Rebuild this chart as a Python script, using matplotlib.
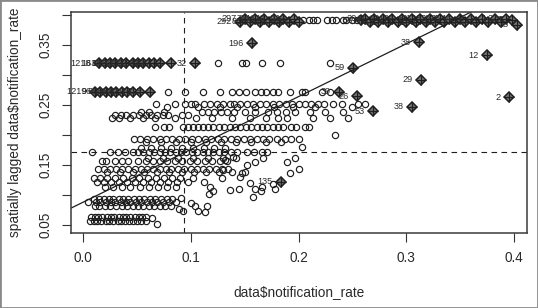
import matplotlib
matplotlib.use("Agg")
import matplotlib.pyplot as plt
from matplotlib.patches import Rectangle

plt.rcParams['font.family'] = ['Liberation Sans', 'DejaVu Sans']

# ---------------- data ----------------
# ordinary points: each band = one spatially lagged value with its notification rates
lag_a1 = 0.063
rates_a1 = [0.007, 0.011, 0.014, 0.018, 0.022, 0.026, 0.029, 0.033, 0.037, 0.040, 0.044, 0.048, 0.052, 0.055, 0.058]
lag_a2 = 0.057
rates_a2 = [0.006, 0.010, 0.013, 0.017, 0.021, 0.024, 0.028, 0.032, 0.035, 0.039, 0.043, 0.046, 0.050, 0.054, 0.058]

lag_c1 = 0.094
rates_c1 = [0.010, 0.015, 0.019, 0.024, 0.028, 0.033, 0.037, 0.042, 0.047, 0.052, 0.057, 0.062, 0.067, 0.072, 0.078, 0.083]
lag_c2 = 0.088
rates_c2 = [0.005, 0.012, 0.016, 0.021, 0.026, 0.030, 0.035, 0.040, 0.044, 0.049, 0.054, 0.059, 0.064, 0.069, 0.074, 0.080, 0.086]
lag_c3 = 0.082
rates_c3 = [0.011, 0.015, 0.020, 0.025, 0.031, 0.036, 0.041, 0.046, 0.051, 0.056, 0.061, 0.066, 0.071, 0.076, 0.082]

lag_d1 = 0.129
rates_d1 = [0.010, 0.016, 0.022, 0.030, 0.037, 0.045, 0.052, 0.060, 0.068, 0.075, 0.083, 0.090, 0.102]
lag_d2 = 0.121
rates_d2 = [0.013, 0.019, 0.026, 0.033, 0.041, 0.048, 0.056, 0.063, 0.071, 0.079, 0.087, 0.097, 0.112]
lag_d3 = 0.114
rates_d3 = [0.020, 0.028, 0.036, 0.044, 0.053, 0.061, 0.070, 0.078, 0.086, 0.118]

lag_e1 = 0.143
rates_e1 = [0.014, 0.019, 0.025, 0.031, 0.036, 0.042, 0.048, 0.054, 0.059, 0.065, 0.071, 0.077, 0.082, 0.088,
            0.094, 0.100, 0.106, 0.111, 0.117, 0.123, 0.129, 0.135]
lag_e2 = 0.138
rates_e2 = [0.022, 0.034, 0.046, 0.057, 0.069, 0.080, 0.092, 0.103, 0.114, 0.126, 0.138, 0.150]

lag_f1 = 0.157
rates_f1 = [0.018, 0.021, 0.030, 0.036, 0.042, 0.051, 0.058, 0.065, 0.071, 0.078, 0.085, 0.092, 0.099, 0.106,
            0.113, 0.120, 0.127, 0.134]
lag_f2 = 0.162
rates_f2 = [0.060, 0.074, 0.088, 0.102, 0.116, 0.130, 0.142]

lag_g1 = 0.172
rates_g1 = [0.008, 0.025, 0.032, 0.039, 0.046, 0.051, 0.056, 0.061, 0.066, 0.071, 0.076, 0.081, 0.086, 0.091,
            0.096, 0.101, 0.106, 0.111, 0.116, 0.121, 0.126, 0.131, 0.137, 0.143, 0.152, 0.159, 0.166, 0.171]
lag_g2 = 0.178
rates_g2 = [0.054, 0.063, 0.072, 0.082, 0.092, 0.102, 0.112, 0.122, 0.132]

lag_h1 = 0.193
rates_h1 = [0.047, 0.053, 0.059, 0.065, 0.071, 0.077, 0.083, 0.089, 0.095, 0.101, 0.107, 0.113, 0.119, 0.125,
            0.131, 0.137, 0.143, 0.149, 0.155, 0.161, 0.167, 0.173, 0.180, 0.187, 0.193, 0.200]
lag_h2 = 0.189
rates_h2 = [0.058, 0.072, 0.086, 0.100, 0.114, 0.128, 0.142, 0.156, 0.170, 0.184]

lag_i1 = 0.213
rates_i1 = [0.067, 0.075, 0.080, 0.093, 0.097, 0.102, 0.107, 0.111, 0.116, 0.121, 0.126, 0.131, 0.136, 0.141,
            0.146, 0.151, 0.156, 0.161, 0.166, 0.171, 0.176, 0.181, 0.186, 0.193, 0.198, 0.206, 0.210]

lag_j1 = 0.233
rates_j1 = [0.030, 0.035, 0.040, 0.046, 0.052, 0.058, 0.063, 0.069, 0.074, 0.079, 0.092, 0.097]
lag_j2 = 0.238
rates_j2 = [0.054, 0.061, 0.075, 0.110, 0.116, 0.122, 0.128, 0.134, 0.140, 0.150, 0.160, 0.172, 0.180, 0.188,
            0.197, 0.211, 0.225, 0.241]
lag_j3 = 0.228
rates_j3 = [0.027, 0.033, 0.044, 0.056, 0.067, 0.085, 0.105, 0.120, 0.138, 0.155, 0.170, 0.181, 0.189, 0.213,
            0.229, 0.246]

lag_k1 = 0.251
rates_k1 = [0.068, 0.085, 0.095, 0.100, 0.104, 0.112, 0.118, 0.124, 0.130, 0.136, 0.140, 0.146, 0.152, 0.158,
            0.164, 0.170, 0.176, 0.182, 0.188, 0.194, 0.200, 0.206, 0.212, 0.218, 0.224, 0.232, 0.240, 0.255, 0.262]
lag_k2 = 0.246
rates_k2 = [0.078, 0.107, 0.127, 0.143, 0.160, 0.177, 0.195, 0.215, 0.250]

lag_l1 = 0.272
rates_l1 = [0.079, 0.095, 0.111, 0.127, 0.138, 0.145, 0.151, 0.160, 0.165, 0.170, 0.176, 0.181, 0.192, 0.203,
            0.206, 0.222, 0.229]

lag_m1 = 0.320
rates_m1 = [0.125, 0.148, 0.151, 0.166, 0.183, 0.229]

lag_n1 = 0.391
rates_n1 = [0.204, 0.210, 0.213, 0.217, 0.226, 0.231, 0.235, 0.241, 0.244, 0.250, 0.254]

# loose ordinary points
loose_rates = [0.064, 0.069, 0.091, 0.089, 0.093, 0.100, 0.104, 0.107, 0.113, 0.115,
               0.136, 0.155, 0.160, 0.166, 0.146, 0.148, 0.152, 0.160, 0.167, 0.189, 0.192, 0.197,
               0.200, 0.130, 0.129, 0.132, 0.139, 0.234, 0.203, 0.145, 0.158, 0.165, 0.176, 0.178,
               0.121, 0.117]
loose_lags = [0.061, 0.052, 0.095, 0.077, 0.073, 0.087, 0.081, 0.073, 0.072, 0.081,
              0.108, 0.120, 0.110, 0.113, 0.130, 0.137, 0.150, 0.155, 0.162, 0.155, 0.137, 0.162,
              0.143, 0.142, 0.128, 0.158, 0.163, 0.200, 0.180, 0.110, 0.096, 0.106, 0.118, 0.110,
              0.106, 0.102]

# influential observations (diamond markers with labels)
infl_rates_r32 = [0.015, 0.020, 0.025, 0.030, 0.035, 0.040, 0.046, 0.051, 0.056, 0.061, 0.066, 0.071, 0.082, 0.104]
infl_lag_r32 = 0.320
infl_labels_r32 = ["1218", "163", "64", "159", "186", "47", "202", "215", "166", "84", "124", "227", "33", "32"]

infl_rates_r27 = [0.011, 0.016, 0.021, 0.026, 0.031, 0.036, 0.041, 0.046, 0.053, 0.062]
infl_lag_r27 = 0.272
infl_labels_r27 = ["1219", "96", "66", "58", "26", "168", "82", "219", "76", "213"]

infl_rates_top = [0.146, 0.150, 0.155, 0.160, 0.164, 0.168, 0.173, 0.177, 0.182, 0.186, 0.191, 0.196, 0.200,
                  0.258, 0.262, 0.266, 0.270, 0.274, 0.278, 0.283, 0.287, 0.292, 0.296, 0.300, 0.305, 0.309,
                  0.313, 0.318, 0.322, 0.327, 0.331, 0.335, 0.340, 0.345, 0.350, 0.355, 0.360, 0.365, 0.370,
                  0.376, 0.382, 0.388, 0.393, 0.398, 0.403]
infl_lags_top = [0.389, 0.394, 0.389, 0.394, 0.389, 0.394, 0.389, 0.394, 0.389, 0.394, 0.389, 0.394, 0.389,
                 0.391, 0.394, 0.389, 0.394, 0.389, 0.394, 0.389, 0.394, 0.389, 0.394, 0.389, 0.394, 0.389,
                 0.394, 0.389, 0.394, 0.389, 0.394, 0.389, 0.394, 0.389, 0.394, 0.389, 0.394, 0.389, 0.394,
                 0.389, 0.394, 0.389, 0.394, 0.392, 0.384]
infl_labels_top = ["292", "297", "88", "71", "104", "246", "61", "17", "230", "9", "45", "113", "251",
                   "55", "20", "35", "48", "11", "7", "63", "24", "41", "99", "13", "5", "68",
                   "21", "42", "18", "6", "30", "16", "25", "3", "14", "23", "8", "10", "1",
                   "15", "4", "19", "22", "27", "28"]

infl_rates_single = [0.157, 0.312, 0.375, 0.251, 0.314, 0.238, 0.254, 0.269, 0.305, 0.395, 0.184]
infl_lags_single = [0.353, 0.355, 0.333, 0.312, 0.292, 0.272, 0.265, 0.240, 0.247, 0.263, 0.122]
infl_labels_single = ["196", "38", "12", "59", "29", "39", "26", "53", "38", "2", "135"]

# reference lines
mean_rate = 0.0937
mean_lag = 0.172
reg_intercept = 0.088
reg_slope = 0.880

x_ticks = [0.0, 0.1, 0.2, 0.3, 0.4]
x_tick_labels = ["0.0", "0.1", "0.2", "0.3", "0.4"]
y_ticks = [0.05, 0.10, 0.15, 0.20, 0.25, 0.30, 0.35, 0.40]
y_tick_labels = ["0.05", "", "0.15", "", "0.25", "", "0.35", ""]

# ---------------- assemble ----------------
bands = [(lag_a1, rates_a1), (lag_a2, rates_a2), (lag_c1, rates_c1), (lag_c2, rates_c2), (lag_c3, rates_c3),
         (lag_d1, rates_d1), (lag_d2, rates_d2), (lag_d3, rates_d3), (lag_e1, rates_e1), (lag_e2, rates_e2),
         (lag_f1, rates_f1), (lag_f2, rates_f2), (lag_g1, rates_g1), (lag_g2, rates_g2), (lag_h1, rates_h1),
         (lag_h2, rates_h2), (lag_i1, rates_i1), (lag_j1, rates_j1), (lag_j2, rates_j2), (lag_j3, rates_j3),
         (lag_k1, rates_k1), (lag_k2, rates_k2), (lag_l1, rates_l1), (lag_m1, rates_m1), (lag_n1, rates_n1)]
pts_x, pts_y = [], []
for lag, rates in bands:
    pts_x += rates
    pts_y += [lag] * len(rates)
pts_x += loose_rates
pts_y += loose_lags

inf_x = infl_rates_r32 + infl_rates_r27 + infl_rates_top + infl_rates_single
inf_y = ([infl_lag_r32] * len(infl_rates_r32) + [infl_lag_r27] * len(infl_rates_r27)
         + infl_lags_top + infl_lags_single)
inf_lab = infl_labels_r32 + infl_labels_r27 + infl_labels_top + infl_labels_single

# ---------------- draw ----------------
W, H = 538, 308
fig = plt.figure(figsize=(W / 100, H / 100), dpi=100)
fig.patch.set_facecolor('white')
ax = fig.add_axes([71 / W, 1 - 233 / H, (527 - 71) / W, (233 - 12) / H])

ink = '#1e1e1e'
ax.plot(pts_x, pts_y, linestyle='none', marker='o', ms=4.5, mfc='none', mec=ink, mew=0.85)
ax.plot(inf_x, inf_y, linestyle='none', marker='D', ms=5.0, mfc='#7a7a7a', mec=ink, mew=1.1)
ax.plot(inf_x, inf_y, linestyle='none', marker='+', ms=7.0, mec=ink, mew=0.9)
for xv, yv, lab in zip(inf_x, inf_y, inf_lab):
    ax.annotate(lab, (xv, yv), xytext=(-6.0, 0), textcoords='offset points',
                ha='right', va='center', fontsize=6.6, color='#2a2a2a')

ax.axline((0, reg_intercept), slope=reg_slope, color=ink, lw=0.9)
ax.axvline(mean_rate, color=ink, lw=0.8, linestyle=(0, (5, 4)))
ax.axhline(mean_lag, color=ink, lw=0.8, linestyle=(0, (5, 4)))

ax.set_xlim(-0.0112, 0.4121)
ax.set_ylim(0.0367, 0.405)
ax.set_xticks(x_ticks)
ax.set_xticklabels(x_tick_labels)
ax.set_yticks(y_ticks)
ax.set_yticklabels(y_tick_labels, rotation=90, va='center')
ax.tick_params(direction='out', length=6.5, width=0.8, color='#333333', pad=6.5,
               labelsize=9.8, labelcolor='#2a2a2a')
for sp in ax.spines.values():
    sp.set_color('#3a3a3a')
    sp.set_linewidth(1.1)

fig.text(299 / W, 1 - 292 / H, r'data\$notification_rate', ha='center', va='center',
         fontsize=9.8, color='#2a2a2a')
fig.text(15 / W, 1 - 122 / H, r'spatially lagged data\$notification_rate', ha='center', va='center',
         rotation=90, fontsize=9.8, color='#2a2a2a')

fig.add_artist(Rectangle((0, 0), 1, 1, transform=fig.transFigure, fill=False,
                         ec='#8a8a8a', lw=2.0))

fig.savefig('out.png', dpi=100)
